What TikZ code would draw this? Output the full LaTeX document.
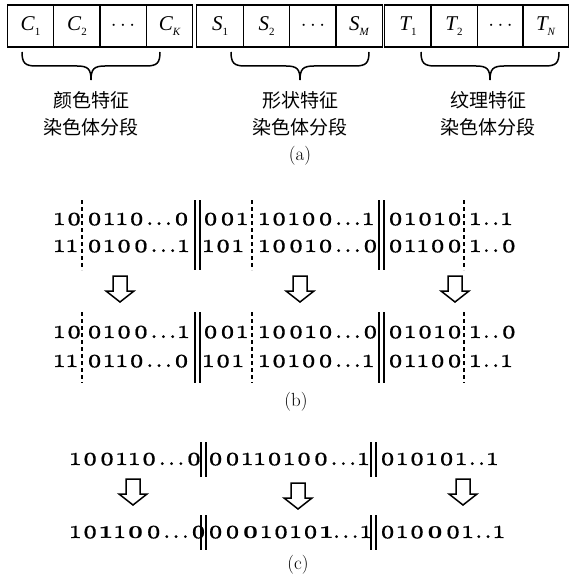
\documentclass[tikz,border=0pt]{standalone}
\usepackage{fontspec}
\newfontfamily\cjk{Noto Sans CJK SC}
\newfontfamily\timesf{Liberation Serif}
\newfontfamily\bitf{lmroman10-regular.otf}[BoldFont=lmroman10-bold.otf,Numbers=OldStyle,LetterSpace=8,UprightFeatures={FakeBold=0.6}]
\newcommand\lbl[2]{{\timesf\itshape #1}\raisebox{-5pt}{\fontsize{11}{11}\selectfont\timesf #2}}
\newcommand\mybrace[2]{%
  \pgfmathsetmacro\xc{(#1+#2)/2}%
  \draw[brc] (#1,52) .. controls (#1,63) and (#1+3,66) .. (#1+14,66) -- (\xc-14,66)
    .. controls (\xc-3,66) and (\xc,69) .. (\xc,80)
    .. controls (\xc,69) and (\xc+3,66) .. (\xc+14,66) -- (#2-14,66)
    .. controls (#2-3,66) and (#2,63) .. (#2,52);}
\tikzset{
  cell/.style={draw, line width=1.3pt, minimum width=46.5pt, minimum height=42pt, inner sep=0pt, font=\fontsize{21}{21}\selectfont},
  brc/.style={line width=1.5pt},
  cjklbl/.style={align=center, font=\cjk\fontsize{19}{27}\selectfont, inner sep=0pt},
  bits/.style={anchor=base west, inner sep=0pt, font=\bitf\fontsize{26}{26}\selectfont},
  figcap/.style={inner sep=0pt, font=\fontsize{19}{19}\selectfont},
  dsh/.style={line width=1.7pt, dash pattern=on 4pt off 3pt},
  bar/.style={line width=1.9pt},
  harrow/.pic={\draw[line width=1.5pt, line join=miter] (-7,0) -- (7,0) -- (7,15) -- (14,15) -- (0,26) -- (-14,15) -- (-7,15) -- cycle;}
}
\begin{document}
\begin{tikzpicture}[x=1pt,y=-1pt]
\useasboundingbox (0,0) rectangle (569,577);
% (a) cells
\node[cell] (c1) at (30.5,26) {\lbl{C}{1}};
\node[cell] (c2) at (77,26) {\lbl{C}{2}};
\node[cell] (c3) at (123,26) {$\cdots$};
\node[cell] (c4) at (169.5,26) {\lbl{C}{\itshape K}};
\node[cell] (s1) at (220,26) {\lbl{S}{1}};
\node[cell] (s2) at (266.5,26) {\lbl{S}{2}};
\node[cell] (s3) at (313,26) {$\cdots$};
\node[cell] (s4) at (359,26) {\lbl{S}{\itshape M}};
\node[cell] (t1) at (408,26) {\lbl{T}{1}};
\node[cell] (t2) at (454,26) {\lbl{T}{2}};
\node[cell] (t3) at (500.5,26) {$\cdots$};
\node[cell] (t4) at (545.5,26) {\lbl{T}{\itshape N}};
\mybrace{22}{160}
\mybrace{231}{369}
\mybrace{421}{559}
\node[cjklbl] (la) at (91,114) {颜色特征\\染色体分段};
\node[cjklbl] (lb) at (300,114) {形状特征\\染色体分段};
\node[cjklbl] (lc) at (488,114) {纹理特征\\染色体分段};
\node[figcap] (capa) at (300,156) {(a)};
% (b) before
\node[bits] (b11) at (54,225) {10};
\node[bits] (b12) at (87,225) {0110...0};
\node[bits] (b13) at (203,225) {001};
\node[bits] (b14) at (259,225) {10100...1};
\node[bits] (b15) at (388,225) {01010};
\node[bits] (b16) at (470,225) {1..1};
\node[bits] (b21) at (54,252) {11};
\node[bits] (b22) at (87,252) {0100...1};
\node[bits] (b23) at (203,252) {101};
\node[bits] (b24) at (259,252) {10010...0};
\node[bits] (b25) at (388,252) {01100};
\node[bits] (b26) at (470,252) {1..0};
\draw[dsh] (82,200) -- (82,270);
\draw[dsh] (252,200) -- (252,270);
\draw[dsh] (464,200) -- (464,270);
\draw[bar] (195,200) -- (195,270) (200,200) -- (200,270);
\draw[bar] (379,200) -- (379,270) (384,200) -- (384,270);
\pic at (120,276) {harrow};
\pic at (300,276) {harrow};
\pic at (455,276) {harrow};
% (b) after
\node[bits] (d11) at (54,338) {10};
\node[bits] (d12) at (87,338) {0100...1};
\node[bits] (d13) at (203,338) {001};
\node[bits] (d14) at (259,338) {10010...0};
\node[bits] (d15) at (388,338) {01010};
\node[bits] (d16) at (470,338) {1..0};
\node[bits] (d21) at (54,367) {11};
\node[bits] (d22) at (87,367) {0110...0};
\node[bits] (d23) at (203,367) {101};
\node[bits] (d24) at (259,367) {10100...1};
\node[bits] (d25) at (388,367) {01100};
\node[bits] (d26) at (470,367) {1..1};
\draw[dsh] (82,312) -- (82,383);
\draw[dsh] (252,312) -- (252,383);
\draw[dsh] (464,312) -- (464,383);
\draw[bar] (195,312) -- (195,383) (200,312) -- (200,383);
\draw[bar] (379,312) -- (379,383) (384,312) -- (384,383);
\node[figcap] (capb) at (296,402) {(b)};
% (c)
\node[bits] (e1) at (70,465) {100110...0};
\node[bits] (e2) at (208,465) {00110100...1};
\node[bits] (e3) at (380,465) {010101..1};
\draw[bar] (201,442) -- (201,477) (206,442) -- (206,477);
\draw[bar] (371,442) -- (371,477) (376,442) -- (376,477);
\pic at (133,479) {harrow};
\pic at (298,483) {harrow};
\pic at (463,479) {harrow};
\node[bits] (f1) at (70,538) {10\textbf{1}1\textbf{0}0...0};
\node[bits] (f2) at (208,538) {00\textbf{0}1010\textbf{1}...1};
\node[bits] (f3) at (380,538) {010\textbf{0}01..1};
\draw[bar] (201,515) -- (201,550) (206,515) -- (206,550);
\draw[bar] (371,515) -- (371,550) (376,515) -- (376,550);
\node[figcap] (capc) at (298,565) {(c)};
\end{tikzpicture}
\end{document}
